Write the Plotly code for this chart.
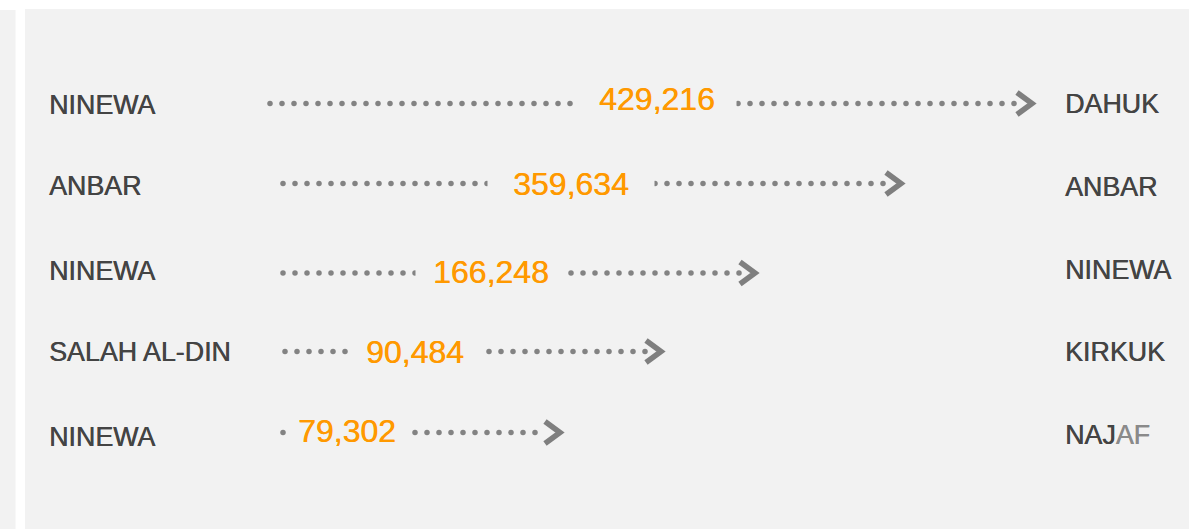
import numpy as np
import plotly.graph_objects as go

# ---- data ----
origins = ["NINEWA", "ANBAR", "NINEWA", "SALAH AL-DIN", "NINEWA"]
destinations = ["DAHUK", "ANBAR", "NINEWA", "KIRKUK", "NAJAF"]
values = [429216, 359634, 166248, 90484, 79302]
arrow_start = [270, 283, 283, 285, 283]      # x where each dotted arrow starts
arrow_end = [1032, 901, 755, 661, 560]       # x of each arrow tip
row_y = [103.5, 183.5, 273, 351.5, 432.5]    # y of each arrow
value_x = [657, 571, 491, 415, 347]          # centre of each value label
value_y = [99, 184, 272, 352, 431]
origin_y = [104.5, 186, 271, 352, 437]
dest_y = [104, 186.5, 270, 352, 435]
mask_pad = [21, 25, 17, 17, 11]              # gap cut around each value label

W, H = 1189, 529
DOT = "#838383"
ARROW = "#7f7f7f"
TEXT = "#444444"
FADE = "#8a8a8a"
ORANGE = "#ff9900"
BG = "#f2f2f2"
FONT = "Liberation Sans, Arial, Helvetica, sans-serif"
LABEL_SIZE = 26.8

fig = go.Figure()

# dotted shafts
for s, e, y in zip(arrow_start, arrow_end, row_y):
    xs = np.arange(s, e - 14, 12.0)
    fig.add_trace(go.Scatter(x=xs, y=[y] * len(xs), mode="markers",
                             marker=dict(size=5.5, color=DOT, line=dict(width=0)),
                             hoverinfo="skip", showlegend=False))
    # chevron head
    fig.add_trace(go.Scatter(x=[e - 15, e, e - 15], y=[y - 11, y, y + 11],
                             mode="lines", line=dict(color=ARROW, width=5.5),
                             hoverinfo="skip", showlegend=False))

annotations = []
for v, x, y, p in zip(values, value_x, value_y, mask_pad):
    annotations.append(dict(x=x, y=y, xref="x", yref="y", text=f"{v:,}",
                            showarrow=False, xanchor="center", yanchor="middle",
                            font=dict(family=FONT, size=32, color=ORANGE,
                                      shadow="0.5px 0px 0px " + ORANGE),
                            bgcolor=BG, borderpad=p))
for name, y in zip(origins, origin_y):
    annotations.append(dict(x=47, y=y, xref="x", yref="y", text=name,
                            showarrow=False, xanchor="left", yanchor="middle",
                            font=dict(family=FONT, size=LABEL_SIZE, color=TEXT,
                                      shadow="0.5px 0px 0px " + TEXT)))
for i, (name, y) in enumerate(zip(destinations, dest_y)):
    txt = name
    if i == len(destinations) - 1:
        txt = (name[:3] + '<span style="color:' + FADE + ';text-shadow:0.5px 0px 0px '
               + FADE + '">' + name[3:] + "</span>")
    annotations.append(dict(x=1063, y=y, xref="x", yref="y", text=txt,
                            showarrow=False, xanchor="left", yanchor="middle",
                            font=dict(family=FONT, size=LABEL_SIZE, color=TEXT,
                                      shadow="0.5px 0px 0px " + TEXT)))

shapes = [
    dict(type="rect", xref="x", yref="y", x0=0, x1=15.5, y0=10, y1=H,
         fillcolor=BG, line=dict(width=0), layer="below"),
    dict(type="rect", xref="x", yref="y", x0=25, x1=W, y0=9, y1=H,
         fillcolor=BG, line=dict(width=0), layer="below"),
]

fig.update_layout(
    width=W, height=H,
    margin=dict(l=0, r=0, t=0, b=0),
    paper_bgcolor="white", plot_bgcolor="white",
    xaxis=dict(range=[0, W], visible=False, fixedrange=True),
    yaxis=dict(range=[H, 0], visible=False, fixedrange=True),
    annotations=annotations, shapes=shapes,
    showlegend=False,
)

fig.write_html("out.html", config={"displayModeBar": False},
               post_script="document.body.style.margin='0';document.body.style.overflow='hidden';")
